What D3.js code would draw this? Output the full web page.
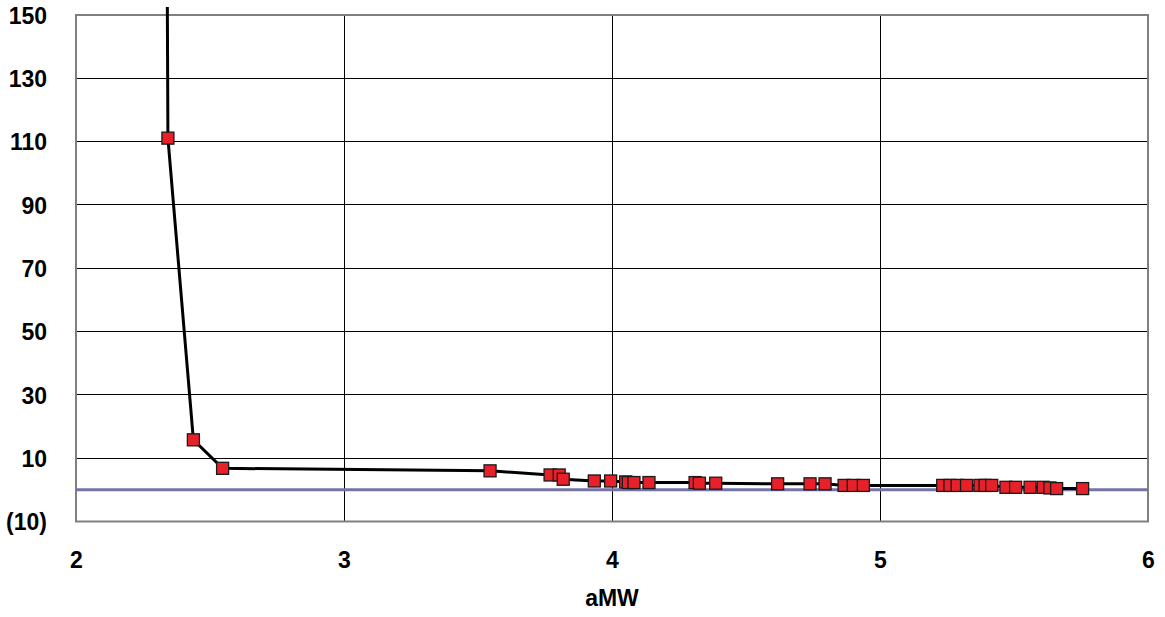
<!DOCTYPE html>
<html><head><meta charset="utf-8">
<script src="https://cdn.jsdelivr.net/npm/d3@7"></script>
<style>body{margin:0;background:#fff}svg{display:block}text{font-family:Arial,"Liberation Sans",sans-serif;font-weight:bold;fill:#000}</style>
</head><body><svg id="c" width="1165" height="617"></svg>
<script>
const xValues = [2.333, 2.343, 2.438, 2.547, 3.545, 3.769, 3.803, 3.818, 3.934, 3.995, 4.051, 4.061, 4.082, 4.138, 4.310, 4.326, 4.387, 4.618, 4.739, 4.795, 4.866, 4.900, 4.938, 5.234, 5.261, 5.288, 5.323, 5.373, 5.392, 5.417, 5.470, 5.506, 5.560, 5.609, 5.634, 5.659, 5.756];
const yValues = [300, 111.1, 15.8, 6.8, 6.0, 4.7, 4.7, 3.35, 2.8, 2.8, 2.5, 2.3, 2.3, 2.3, 2.3, 2.1, 2.1, 1.9, 1.9, 1.9, 1.4, 1.4, 1.4, 1.4, 1.4, 1.4, 1.4, 1.4, 1.4, 1.4, 0.8, 0.8, 0.8, 0.8, 0.6, 0.4, 0.4];
const markerShown = xValues.map((d,i)=> i>0);
const xTicks = [2, 3, 4, 5, 6];
const yTicks = [-10, 10, 30, 50, 70, 90, 110, 130, 150];
const yTickLabels = ["(10)", "10", "30", "50", "70", "90", "110", "130", "150"];
const xTitle = "aMW";

const svg = d3.select("#c");
const L=76, R=1148, T=15, B=521.5;
const x = d3.scaleLinear().domain([2,6]).range([L,R]);
const y = d3.scaleLinear().domain([-10,150]).range([B,T]);

svg.append("g").selectAll("line").data(yTicks.filter(v=>v!==-10&&v!==150)).join("line")
  .attr("x1",L).attr("x2",R).attr("y1",d=>y(d)).attr("y2",d=>y(d))
  .attr("stroke","#000").attr("stroke-width",1).attr("shape-rendering","crispEdges");
svg.append("g").selectAll("line").data(xTicks.filter(v=>v!==2&&v!==6)).join("line")
  .attr("x1",d=>x(d)).attr("x2",d=>x(d)).attr("y1",T).attr("y2",B)
  .attr("stroke","#000").attr("stroke-width",1).attr("shape-rendering","crispEdges");
svg.append("rect").attr("x",L).attr("y",T).attr("width",R-L).attr("height",B-T)
  .attr("fill","none").attr("stroke","#808080").attr("stroke-width",2);
svg.append("line").attr("x1",L).attr("x2",R).attr("y1",y(0)).attr("y2",y(0))
  .attr("stroke","#7474A6").attr("stroke-width",3);

const fs = "23px";
const yAxis = d3.axisLeft(y).tickValues(yTicks).tickFormat((d,i)=>yTickLabels[i]).tickSize(0).tickPadding(29);
const gy = svg.append("g").attr("transform",`translate(${L},0)`).call(yAxis);
gy.select(".domain").remove();
gy.selectAll("text").style("font-size",fs).style("font-family","Arial, 'Liberation Sans', sans-serif").style("font-weight","bold").attr("dy","0.36em");

const xAxis = d3.axisBottom(x).tickValues(xTicks).tickFormat(d3.format("d")).tickSize(0).tickPadding(30);
const gx = svg.append("g").attr("transform",`translate(0,${B})`).call(xAxis);
gx.select(".domain").remove();
gx.selectAll("text").style("font-size",fs).style("font-family","Arial, 'Liberation Sans', sans-serif").style("font-weight","bold");

svg.append("text").attr("x",(L+R)/2).attr("y",606).attr("text-anchor","middle")
  .style("font-size",fs).text(xTitle);

svg.append("clipPath").attr("id","clip").append("rect").attr("x",L).attr("y",T-8).attr("width",R-L).attr("height",B-T+8);
const pts = xValues.map((v,i)=>[v,yValues[i]]);
svg.append("path").datum(pts).attr("clip-path","url(#clip)")
  .attr("d",d3.line().x(d=>x(d[0])).y(d=>y(d[1])))
  .attr("fill","none").attr("stroke","#000").attr("stroke-width",3);
const s=12;
svg.append("g").selectAll("rect").data(pts.filter((d,i)=>markerShown[i])).join("rect")
  .attr("x",d=>x(d[0])-s/2).attr("y",d=>y(d[1])-s/2).attr("width",s).attr("height",s)
  .attr("fill","#E8202A").attr("stroke","#1a1a1a").attr("stroke-width",1.3);
</script></body></html>
